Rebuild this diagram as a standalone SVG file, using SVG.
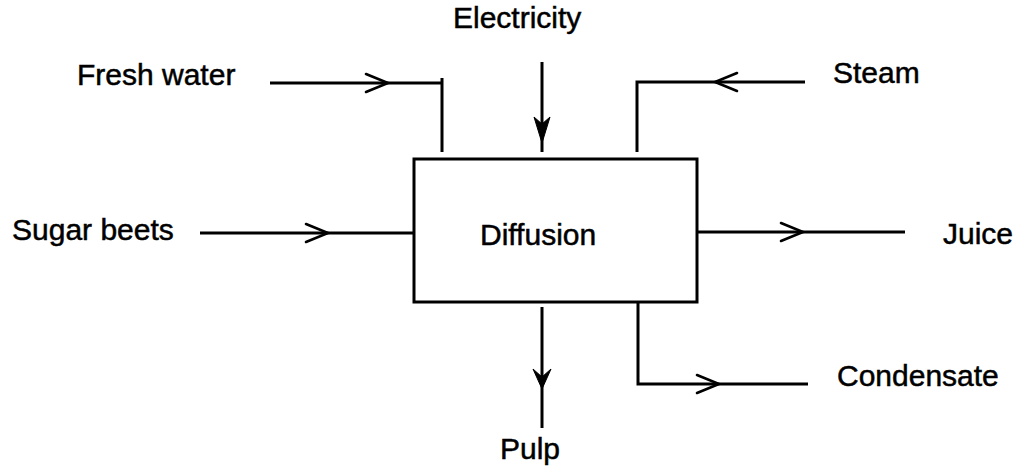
<svg xmlns="http://www.w3.org/2000/svg" xmlns:xlink="http://www.w3.org/1999/xlink" width="1020" height="469" viewBox="0 0 1020 469">
<style>
.ln{fill:none;stroke:#000;stroke-width:3;stroke-linecap:butt;stroke-linejoin:miter}
.ch{fill:none;stroke:#000;stroke-width:2.6;stroke-linecap:round;stroke-linejoin:miter}
.ah{fill:#000;stroke:#000;stroke-width:1;stroke-linejoin:miter}
.box{fill:#fff;stroke:#000;stroke-width:3}
.t{font-family:"Liberation Sans",Arial,Helvetica,sans-serif;font-size:30px;fill:#000;stroke:#000;stroke-width:0.5}
</style>
<defs>
<path id="chev" d="M-22,-9 L0,0 L-22,9"/>
<path id="fdown" d="M-8,-26 L0,0 L8,-26 L0,-19 Z"/>
<path id="vdown" d="M-9,-20 L0,0 L9,-20 L0,-12 Z"/>
</defs>
<rect width="1020" height="469" fill="#fff"/>
<g id="connectors">
<g id="fresh-water-flow">
<path class="ln" d="M270,83 H442 M442,78 V152"/>
<use class="ch" href="#chev" xlink:href="#chev" transform="translate(388,83)"/>
</g>
<g id="electricity-flow">
<path class="ln" d="M542,62 V152"/>
<use class="ah" href="#fdown" xlink:href="#fdown" transform="translate(542,143)"/>
</g>
<g id="steam-flow">
<path class="ln" d="M805,82 H637 V152"/>
<use class="ch" href="#chev" xlink:href="#chev" transform="translate(715,82) rotate(180)"/>
</g>
<g id="sugar-beets-flow">
<path class="ln" d="M200,233 H414"/>
<use class="ch" href="#chev" xlink:href="#chev" transform="translate(328,233)"/>
</g>
<g id="juice-flow">
<path class="ln" d="M697,232 H905"/>
<use class="ch" href="#chev" xlink:href="#chev" transform="translate(803,232)"/>
</g>
<g id="pulp-flow">
<path class="ln" d="M542,307 V428"/>
<use class="ah" href="#vdown" xlink:href="#vdown" transform="translate(542,389)"/>
</g>
<g id="condensate-flow">
<path class="ln" d="M638,302 V384 H808"/>
<use class="ch" href="#chev" xlink:href="#chev" transform="translate(719,384)"/>
</g>
</g>
<g id="diffusion">
<rect class="box" x="414" y="159" width="283" height="143"/>
<text class="t" x="480" y="245">Diffusion</text>
</g>
<g id="fresh-water"><text class="t" x="77" y="85">Fresh water</text></g>
<g id="electricity"><text class="t" x="453" y="28">Electricity</text></g>
<g id="steam"><text class="t" x="833" y="83">Steam</text></g>
<g id="sugar-beets"><text class="t" x="12" y="240">Sugar beets</text></g>
<g id="juice"><text class="t" x="943" y="244">Juice</text></g>
<g id="pulp"><text class="t" x="500" y="459">Pulp</text></g>
<g id="condensate"><text class="t" x="837" y="386">Condensate</text></g>
</svg>
